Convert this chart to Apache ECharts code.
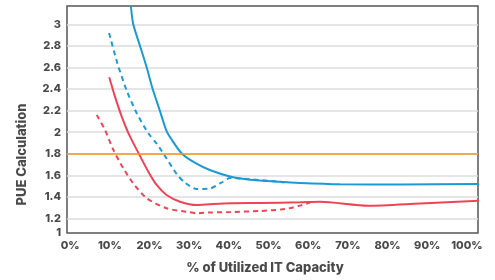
<!DOCTYPE html>
<html>
<head>
<meta charset="utf-8">
<script src="https://cdn.jsdelivr.net/npm/echarts@6/dist/echarts.min.js"></script>
<style>
  html, body { margin: 0; padding: 0; background: #fff; }
  #chart { width: 495px; height: 280px; }
</style>
</head>
<body>
<div id="chart"></div>
<script>
"use strict";
// values: [% of IT capacity, PUE]
var blueSolid = [[15.3,3.17],[15.9,3.0],[17.6,2.8],[19.3,2.6],[20.8,2.4],[22.6,2.2],[24.2,2.02],[25.6,1.93],
  [28.2,1.8],[31.5,1.715],[35.2,1.65],[40.3,1.59],[45.3,1.56],[52.9,1.54],[57.9,1.53],[68,1.518],
  [83,1.515],[103,1.52]];
var blueDashed = [[9.8,2.92],[11.9,2.64],[14.2,2.39],[16.8,2.175],[19.7,1.99],[21.9,1.89],[23.9,1.78],
  [26.9,1.61],[29.0,1.53],[31.9,1.474],[35.2,1.478],[38,1.53],[40.3,1.575],[45.3,1.565],[50,1.55],[54,1.535]];
var redSolid = [[9.85,2.51],[11.3,2.33],[13.0,2.144],[14.7,1.99],[17.6,1.78],[19.7,1.634],
  [21.8,1.511],[24.3,1.418],[27.7,1.356],[31.9,1.325],[35.2,1.332],[40.3,1.341],[47.9,1.344],[57.9,1.35],
  [63,1.356],[75.1,1.319],[88.2,1.34],[103,1.365]];
var redDashed = [[6.7,2.16],[8.8,2.02],[10.9,1.835],[13.4,1.665],[15.9,1.526],[19.3,1.388],[24.3,1.295],
  [29.4,1.263],[31.9,1.249],[35.2,1.256],[40.3,1.26],[47.9,1.27],[54.2,1.288],[57.9,1.32],[60.5,1.349]];
var targetPue = 1.8;
var xTicks = [0,10,20,30,40,50,60,70,80,90,100];
var yTicks = [1.2,1.4,1.6,1.8,2,2.2,2.4,2.6,2.8,3];
var yMin = 1.066, yMax = 3.17;

var BLUE = '#1b9ad6', RED = '#ef4455', ORANGE = '#f7941d', INK = '#4a4a4a';
var fontFamily = 'Inter, Roboto, sans-serif';

var chart = echarts.init(document.getElementById('chart'));

function curve(name, data, color, dashed) {
  return {
    name: name,
    type: 'line',
    data: data,
    smooth: 0.25,
    showSymbol: false,
    clip: true,
    lineStyle: { color: color, width: 2, type: dashed ? [5, 4] : 'solid' },
    silent: true
  };
}

var series = [
  curve('blueSolid', blueSolid, BLUE, false),
  curve('blueDashed', blueDashed, BLUE, true),
  curve('redSolid', redSolid, RED, false),
  curve('redDashed', redDashed, RED, true)
];
series.push({
  type: 'line',
  data: [],
  markLine: {
    silent: true,
    symbol: 'none',
    label: { show: false },
    lineStyle: { color: ORANGE, width: 1.5, type: 'solid' },
    data: [{ yAxis: targetPue }]
  }
});

chart.setOption({
  animation: false,
  grid: {
    left: 67, right: 17, top: 6, bottom: 47,
    show: true, borderColor: '#555', borderWidth: 1.5,
    outerBoundsMode: 'none'
  },
  xAxis: {
    type: 'value',
    min: -0.8,
    max: 102.8,
    axisLine: { show: false },
    axisTick: { show: false, customValues: xTicks },
    splitLine: { show: false },
    axisLabel: {
      customValues: xTicks,
      formatter: function (v) { return v + '%'; },
      color: INK, fontWeight: 800, fontSize: 11, fontFamily: fontFamily, margin: 7
    },
    name: '% of Utilized IT Capacity',
    nameLocation: 'middle',
    nameGap: 29,
    nameTextStyle: {
      color: INK, fontWeight: 800, fontSize: 13, fontFamily: fontFamily,
      padding: [0, 15, 0, 0]
    }
  },
  yAxis: {
    type: 'value',
    min: yMin,
    max: yMax,
    axisLine: { show: false },
    axisTick: { show: false, customValues: yTicks },
    splitLine: { show: true, lineStyle: { color: '#dcdcdc', width: 1.5 } },
    axisLabel: {
      customValues: [yMin].concat(yTicks),
      formatter: function (v) { return v < 1.1 ? '1' : String(v); },
      color: INK, fontWeight: 800, fontSize: 11, fontFamily: fontFamily, margin: 6
    },
    name: 'PUE Calculation',
    nameLocation: 'middle',
    nameGap: 38,
    nameRotate: 90,
    nameTextStyle: {
      color: INK, fontWeight: 800, fontSize: 13, fontFamily: fontFamily,
      padding: [0, 70, 0, 0]
    }
  },
  series: series
});
</script>
</body>
</html>
